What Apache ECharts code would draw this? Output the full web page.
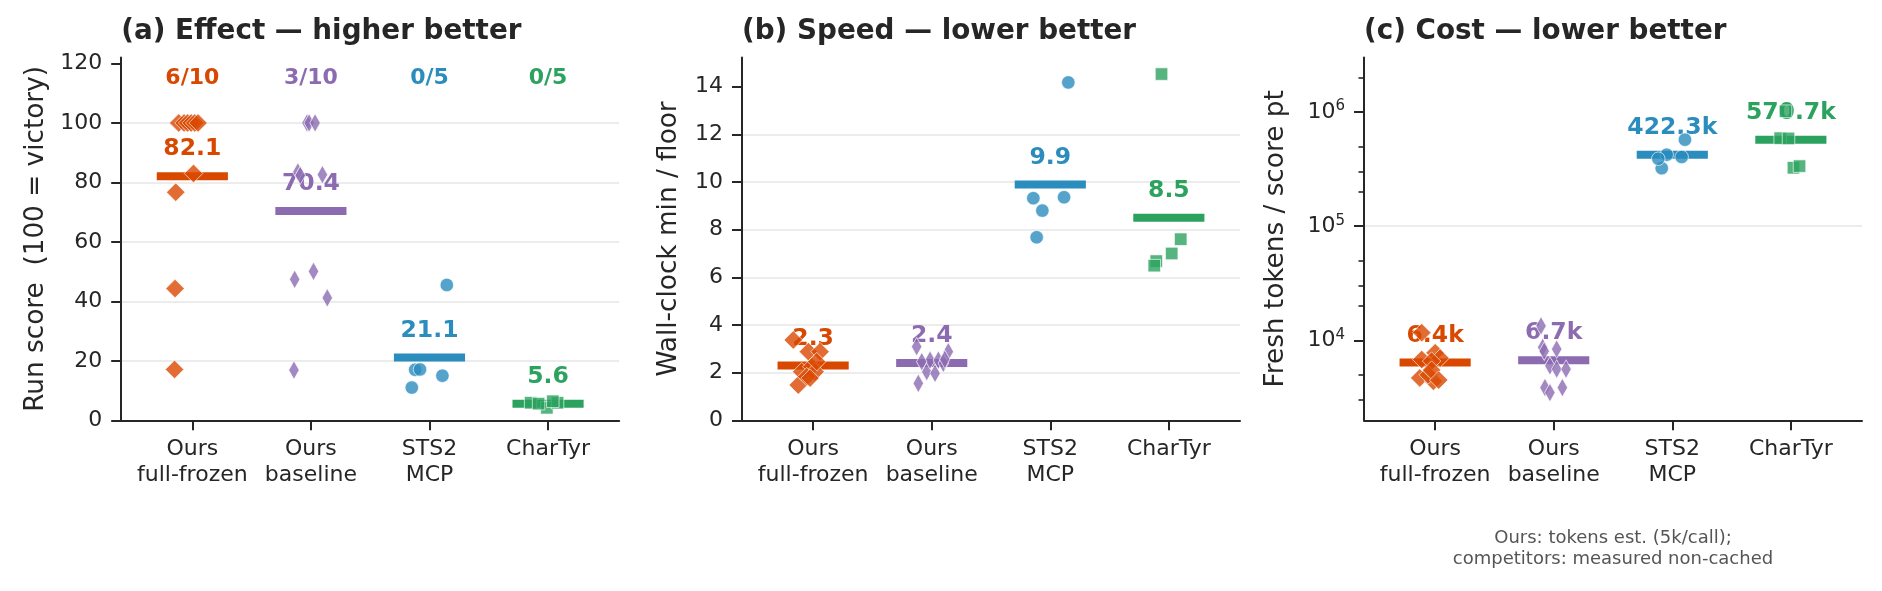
<!DOCTYPE html>
<html>
<head>
<meta charset="utf-8">
<script src="https://cdn.jsdelivr.net/npm/echarts@6/dist/echarts.min.js"></script>
<style>html,body{margin:0;padding:0;background:#fff}#c{width:1882px;height:591px}</style>
</head>
<body>
<div id="c"></div>
<script>
// ---------------- data ----------------
const categories = ['Ours\nfull-frozen', 'Ours\nbaseline', 'STS2\nMCP', 'CharTyr'];
const panelTitles = ['(a) Effect — higher better', '(b) Speed — lower better', '(c) Cost — lower better'];
const yNames = ['Run score  (100 = victory)', 'Wall-clock min / floor', 'Fresh tokens / score pt'];
const winCounts = ['6/10', '3/10', '0/5', '0/5'];
const footnote = 'Ours: tokens est. (5k/call);\ncompetitors: measured non-cached';

// (a) run score
const effFrozen = [100, 100, 100, 100, 100, 100, 83, 76.7, 44.3, 17.1];
const effFrozenJit = [-0.115, -0.07, -0.04, -0.01, 0.02, 0.048, 0.01, -0.14, -0.146, -0.15];
const effBase = [100, 100, 100, 83.5, 82.4, 82.6, 47.4, 50.1, 41.2, 16.9];
const effBaseJit = [-0.033, -0.015, 0.035, -0.11, -0.09, 0.097, -0.137, 0.022, 0.138, -0.143];
const effSts = [45.5, 17, 17.1, 15, 11];
const effStsJit = [0.146, -0.121, -0.08, 0.109, -0.149];
const effChar = [5.9, 4.2, 5.9, 6.4, 5.6];
const effCharJit = [-0.147, -0.01, 0.08, 0.04, -0.08];
const effMeans = [82.1, 70.4, 21.1, 5.6];

// (b) wall-clock min / floor
const spdFrozen = [3.37, 2.88, 2.88, 1.48, 2.04, 2.25, 2.04, 1.83, 2.46, 1.77];
const spdFrozenJit = [-0.167, -0.04, 0.058, -0.125, -0.096, -0.012, 0.016, -0.054, 0.03, -0.026];
const spdBase = [3.09, 2.88, 1.55, 2.04, 1.97, 2.53, 2.53, 2.39, 2.46, 2.56];
const spdBaseJit = [-0.127, 0.14, -0.113, -0.042, 0.028, -0.014, 0.056, 0.098, -0.084, 0.11];
const spdSts = [14.18, 9.32, 8.8, 9.36, 7.68];
const spdStsJit = [0.152, -0.143, -0.067, 0.116, -0.115];
const spdChar = [14.53, 7.6, 7.0, 6.68, 6.49];
const spdCharJit = [-0.062, 0.1, 0.024, -0.106, -0.123];
const spdMeans = [2.3, 2.4, 9.9, 8.5];

// (c) fresh tokens / score pt
const costFrozen = [11700, 7800, 6800, 7000, 6600, 4700, 4400, 5000, 5500, 4500];
const costFrozenJit = [-0.113, 0, -0.113, 0.042, -0.03, -0.13, -0.015, -0.058, -0.03, 0.03];
const costBase = [13400, 8700, 8400, 6000, 5600, 5600, 3870, 3500, 3870, 8060];
const costBaseJit = [-0.107, -0.093, 0.025, -0.032, 0.025, 0.104, -0.074, -0.032, 0.073, -0.08];
const costSts = [573000, 423000, 404000, 322000, 390000];
const costStsJit = [0.107, -0.047, 0.079, -0.089, -0.118];
const costChar = [1016000, 590000, 587000, 325000, 336000];
const costCharJit = [-0.045, -0.09, -0.02, 0.022, 0.073];
const costMeans = [6400, 6700, 422300, 570700];

const effTicks = [0, 20, 40, 60, 80, 100, 120];
const spdTicks = [0, 2, 4, 6, 8, 10, 12, 14];
const costTicks = [1e4, 1e5, 1e6];
const costMinorTicks = [3e3, 5e3, 2e4, 3e4, 5e4, 2e5, 3e5, 5e5, 2e6];

// ---------------- style ----------------
const FONT = 'DejaVu Sans';
const INK = '#262626';
const GRIDC = '#e6e6e6';
const colors = ['#d94801', '#8c6bb1', '#2b8cbe', '#2ca25f'];
const symbols = ['diamond', 'diamond', 'circle', 'rect'];
const symSizes = [[18.5, 18.5], [10.5, 18.5], [13.5, 13.5], [12.5, 12.5]];
const gridLefts = [121.2, 742, 1364];
const gridTop = 57.5, gridH = 362.8, gridW = 498;
const nameGaps = [72, 59.5, 74.5];

const panels = [
  { vals: [effFrozen, effBase, effSts, effChar], jit: [effFrozenJit, effBaseJit, effStsJit, effCharJit], means: effMeans, fmt: v => v.toFixed(1) },
  { vals: [spdFrozen, spdBase, spdSts, spdChar], jit: [spdFrozenJit, spdBaseJit, spdStsJit, spdCharJit], means: spdMeans, fmt: v => v.toFixed(1) },
  { vals: [costFrozen, costBase, costSts, costChar], jit: [costFrozenJit, costBaseJit, costStsJit, costCharJit], means: costMeans, fmt: v => (v / 1000).toFixed(1) + 'k' }
];

const axisLineStyle = { color: INK, width: 2 };

const grid = gridLefts.map(l => ({ left: l, top: gridTop, width: gridW, height: gridH, containLabel: false }));

const xAxis = [0, 1, 2].map(p => ({
  type: 'value', gridIndex: p, min: -0.6, max: 3.6,
  axisLine: { show: true, onZero: false, lineStyle: axisLineStyle },
  axisTick: { show: true, customValues: [0, 1, 2, 3], length: 10, lineStyle: axisLineStyle },
  axisLabel: { customValues: [0, 1, 2, 3], formatter: v => categories[Math.round(v)], color: INK, fontFamily: FONT, fontSize: 22, lineHeight: 26, margin: 16 },
  splitLine: { show: false }
}));

function yBase(p, extra) {
  return Object.assign({
    gridIndex: p, position: 'left', offset: 0,
    name: yNames[p], nameLocation: 'middle', nameGap: nameGaps[p],
    nameTextStyle: { fontSize: 26.3, color: INK, fontFamily: FONT },
    axisLine: { show: true, onZero: false, lineStyle: axisLineStyle },
    splitLine: { show: true, showMinLine: false, showMaxLine: false, lineStyle: { color: GRIDC, width: 1.5 } }
  }, extra);
}

const yAxis = [
  yBase(0, {
    type: 'value', min: 0, max: 122, interval: 20,
    axisTick: { show: true, customValues: effTicks, length: 10, lineStyle: axisLineStyle },
    axisLabel: { customValues: effTicks, color: INK, fontFamily: FONT, fontSize: 22, margin: 19 }
  }),
  yBase(1, {
    type: 'value', min: 0, max: 15.225, interval: 2,
    axisTick: { show: true, customValues: spdTicks, length: 10, lineStyle: axisLineStyle },
    axisLabel: { customValues: spdTicks, color: INK, fontFamily: FONT, fontSize: 22, margin: 19 }
  }),
  yBase(2, {
    type: 'log', logBase: 10, min: 2000, max: 3e6,
    axisTick: { show: true, customValues: costTicks, length: 10, lineStyle: axisLineStyle },
    axisLabel: {
      customValues: costTicks, margin: 19,
      formatter: v => '{b|10}{s|' + Math.round(Math.log10(v)) + '}',
      rich: {
        b: { fontSize: 22, fontFamily: FONT, color: INK, lineHeight: 26 },
        s: { fontSize: 15, fontFamily: FONT, color: INK, lineHeight: 15, verticalAlign: 'top' }
      }
    }
  }),
  {
    type: 'log', logBase: 10, min: 2000, max: 3e6, gridIndex: 2, position: 'left', offset: 0,
    axisLine: { show: false, onZero: false },
    axisTick: { show: true, customValues: costMinorTicks, length: 5.5, lineStyle: { color: INK, width: 1.6 } },
    axisLabel: { show: false },
    splitLine: { show: false }
  }
];

const series = [];
panels.forEach((pn, p) => {
  pn.means.forEach((m, g) => {
    series.push({
      type: 'line', xAxisIndex: p, yAxisIndex: p, silent: true, z: 2,
      data: [[g - 0.3, m], [g + 0.3, m]], symbol: 'none',
      lineStyle: { color: colors[g], width: 8, cap: 'butt', opacity: 1 }
    });
  });
  series.push({
    type: 'scatter', xAxisIndex: p, yAxisIndex: p, silent: true, z: 3,
    symbolSize: 0, itemStyle: { opacity: 1, color: 'rgba(0,0,0,0)' },
    data: pn.means.map((m, g) => ({ value: [g, m], label: { color: colors[g] } })),
    label: { show: true, opacity: 1, position: 'inside', offset: [0, -27], formatter: d => pn.fmt(d.value[1]), fontFamily: FONT, fontWeight: 'bold', fontSize: 23.5 }
  });
  pn.vals.forEach((vals, g) => {
    series.push({
      type: 'scatter', xAxisIndex: p, yAxisIndex: p, silent: true, z: 4,
      symbol: symbols[g], symbolSize: symSizes[g],
      data: vals.map((v, k) => [g + pn.jit[g][k], v]),
      itemStyle: { color: colors[g], opacity: 0.8, borderColor: '#ffffff', borderWidth: 0.8 }
    });
  });
});
series.push({
  type: 'scatter', xAxisIndex: 0, yAxisIndex: 0, silent: true, z: 3, symbolSize: 0,
  itemStyle: { opacity: 1, color: 'rgba(0,0,0,0)' },
  data: winCounts.map((t, g) => ({ value: [g, 115], name: t, label: { color: colors[g] } })),
  label: { show: true, opacity: 1, position: 'inside', formatter: d => d.name, fontFamily: FONT, fontWeight: 'bold', fontSize: 22 }
});

const title = panelTitles.map((t, p) => ({
  text: t, left: gridLefts[p], top: 18, padding: 0,
  textStyle: { fontSize: 27.8, fontWeight: 'bold', color: INK, fontFamily: FONT }
}));

const option = {
  animation: false,
  backgroundColor: '#ffffff',
  textStyle: { fontFamily: FONT },
  title, grid, xAxis, yAxis, series,
  graphic: [{
    type: 'text', x: gridLefts[2] + gridW / 2, y: 528, silent: true,
    style: { text: footnote, fontSize: 18, fontFamily: FONT, fill: '#555555', align: 'center', verticalAlign: 'top', lineHeight: 21 }
  }]
};

const chart = echarts.init(document.getElementById('c'), null, { renderer: 'canvas' });
chart.setOption(option);
</script>
</body>
</html>
